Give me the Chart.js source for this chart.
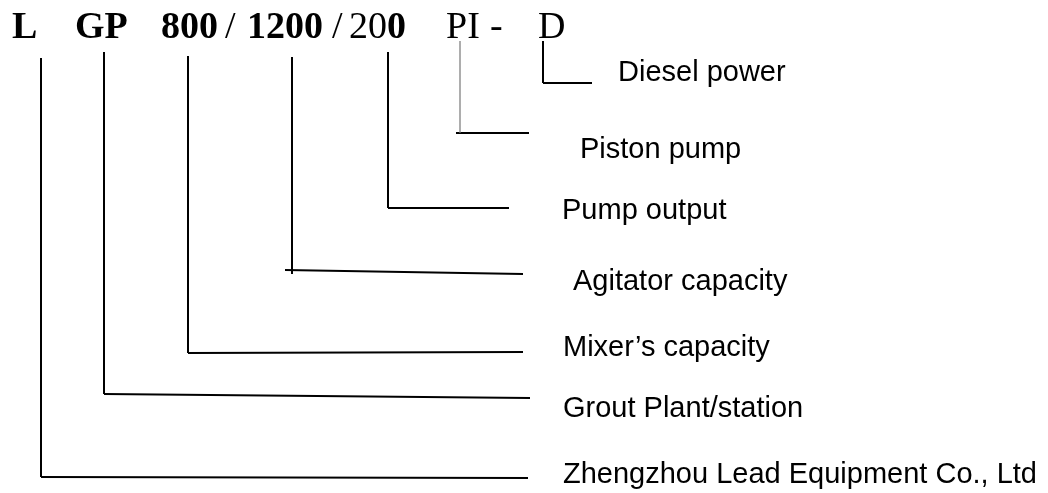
<!DOCTYPE html>
<html>
<head>
<meta charset="utf-8">
<script src="https://cdn.jsdelivr.net/npm/chart.js@4"></script>
<style>
  html, body { margin: 0; padding: 0; background: #fff; }
  #wrap { width: 1048px; height: 493px; }
</style>
</head>
<body>
<div id="wrap"><canvas id="codeChart" width="1048" height="493"></canvas></div>
<script>
// model code parts and what they mean
const codes = ['L', 'GP', '800', '1200', '200', 'PI', 'D'];
const meanings = ['Zhengzhou Lead Equipment Co., Ltd', 'Grout Plant/station', 'Mixer\u2019s capacity',
                  'Agitator capacity', 'Pump output', 'Piston pump', 'Diesel power'];

// connector geometry (diagram units = px)
const stemX   = [41, 104, 188, 292, 388, 460, 543];
const stemTop = [58, 52, 56, 57, 52, 41, 41];
const stemBot = [477, 394, 353, 274, 208, 133, 83];
const armFrom = [41, 104, 188, 285, 388, 456, 543];
const armY0   = [477, 394, 353, 270, 208, 133, 83];
const armTo   = [528, 530, 523, 523, 509, 529, 592];
const armY1   = [478, 398, 352, 274, 208, 133, 83];

// where each meaning is written (left x, baseline y)
const labelX = [563, 563, 563, 573, 562, 580, 618];
const labelY = [483, 417, 356, 290, 219, 158, 81];

// heading: code text pieces
const headParts = [
  { t: 'L', b: true, x: 12 },
  { t: 'GP', b: true, x: 75 },
  { t: '800', b: true, x: 161 },
  { t: '/', b: false, x: 225 },
  { t: '1200', b: true, x: 247 },
  { t: '/', b: false, x: 332 },
  { t: '20', b: false, x: 349 },
  { t: '0', b: true, x: 387 },
  { t: 'PI', b: false, x: 446 },
  { t: '-', b: false, x: 490 },
  { t: 'D', b: false, x: 538 }
];
const headY = 38;

const datasets = [];
codes.forEach((c, i) => {
  const thin = c === 'PI';
  datasets.push({
    label: c + ' stem',
    data: [{ x: stemX[i], y: stemTop[i] }, { x: stemX[i], y: stemBot[i] }],
    borderColor: thin ? '#777' : '#000',
    borderWidth: thin ? 1.2 : 2,
    pointRadius: 0,
    showLine: true
  });
  datasets.push({
    label: c + ' arm',
    data: [{ x: armFrom[i], y: armY0[i] }, { x: armTo[i], y: armY1[i] }],
    borderColor: '#000',
    borderWidth: 2,
    pointRadius: 0,
    showLine: true
  });
});

const textPlugin = {
  id: 'codeText',
  afterDatasetsDraw(chart) {
    const ctx = chart.ctx;
    const xs = chart.scales.x, ys = chart.scales.y;
    ctx.save();
    ctx.fillStyle = '#000';
    ctx.textBaseline = 'alphabetic';
    ctx.textAlign = 'left';
    headParts.forEach(p => {
      ctx.font = (p.b ? 'bold ' : '') + '38px "Liberation Serif", "Times New Roman", serif';
      ctx.fillText(p.t, xs.getPixelForValue(p.x), ys.getPixelForValue(headY));
    });
    ctx.font = '29px "Liberation Sans", Arial, sans-serif';
    meanings.forEach((m, i) => {
      ctx.fillText(m, xs.getPixelForValue(labelX[i]), ys.getPixelForValue(labelY[i]));
    });
    ctx.restore();
  }
};

new Chart(document.getElementById('codeChart').getContext('2d'), {
  type: 'scatter',
  data: { datasets: datasets },
  options: {
    responsive: false,
    animation: false,
    layout: { padding: 0 },
    plugins: { legend: { display: false }, tooltip: { enabled: false } },
    scales: {
      x: { type: 'linear', min: 0, max: 1048, display: false },
      y: { type: 'linear', min: 0, max: 493, reverse: true, display: false }
    }
  },
  plugins: [textPlugin]
});
</script>
</body>
</html>
